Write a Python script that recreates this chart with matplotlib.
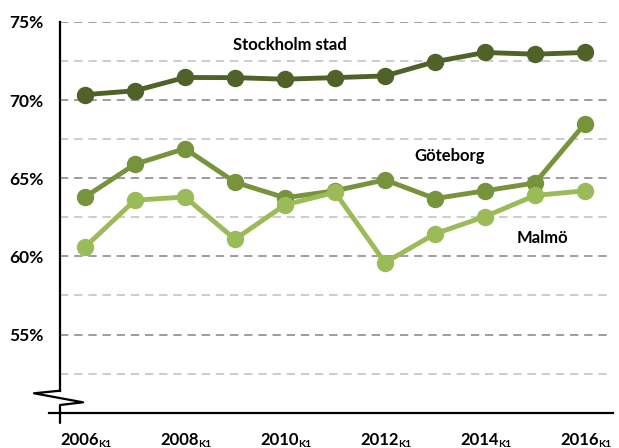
import matplotlib
matplotlib.use("Agg")
import matplotlib.pyplot as plt

years = [2006, 2007, 2008, 2009, 2010, 2011, 2012, 2013, 2014, 2015, 2016]
stockholm = [70.35, 70.6, 71.45, 71.44, 71.34, 71.44, 71.55, 72.46, 73.05, 72.94, 73.05]
goteborg = [63.8, 65.9, 66.9, 64.75, 63.75, 64.2, 64.9, 63.7, 64.2, 64.7, 68.5]
malmo = [60.6, 63.6, 63.8, 61.1, 63.3, 64.1, 59.6, 61.45, 62.55, 63.9, 64.2]
series_names = ["Stockholm stad", "Göteborg", "Malmö"]
series_colors = ["#4f6228", "#77933c", "#9bbb59"]
xtick_years = [2006, 2008, 2010, 2012, 2014, 2016]
xtick_sub = "K1"
ytick_vals = [55, 60, 65, 70, 75]

FONT = "Lato"
plt.rcParams["font.family"] = [FONT, "DejaVu Sans"]

fig = plt.figure(figsize=(6.19, 4.48), dpi=100)
ax = fig.add_axes([60/619, 1-412.7/448, 550/619, 390.7/448])
ax.set_xlim(2005.5, 2016.5)
ax.set_ylim(50, 75)

# gridlines
for i in range(1, 11):
    v = 50 + 2.5*i
    col = "#8c8c8c" if i % 2 == 0 else "#c4c4c4"
    ax.axhline(v, color=col, lw=1.2, dashes=(5, 3.5), zorder=1)

for vals, col in zip([stockholm, goteborg, malmo], series_colors):
    ax.plot(years, vals, color=col, lw=3.5, marker="o", markersize=11.5,
            zorder=3, solid_capstyle="round")

# labels
ax.text(2010.1, 73.55, series_names[0], ha="center", va="center",
        fontsize=12, fontweight="bold")
ax.text(2013.3, 66.4, series_names[1], ha="center", va="center",
        fontsize=12, fontweight="bold")
ax.text(2015.15, 61.2, series_names[2], ha="center", va="center",
        fontsize=12, fontweight="bold")

for s in ax.spines.values():
    s.set_visible(False)
ax.set_xticks([])
ax.set_yticks(ytick_vals)
ax.set_yticklabels([f"{v}%" for v in ytick_vals], fontsize=12.5, fontweight="bold")
ax.tick_params(axis="y", length=0, pad=12)

# axis lines with break
T = ax.transAxes
kw = dict(color="black", lw=1.6, transform=T, clip_on=False, zorder=5)
ax.plot([0, 0], [1, 0.0563], **kw)
ax.plot([0, -0.0473, 0.0418, 0, 0], [0.0563, 0.0497, 0.0266, 0.0197, -0.0256], **kw)
ax.plot([-0.02, 1.0055], [0, 0], **kw)

# x tick labels with subscript
for y in xtick_years:
    ax.annotate(str(y), xy=(y, 0), xycoords=("data", "axes fraction"),
                xytext=(10, -23), textcoords="offset points", ha="right", va="baseline",
                fontsize=12, fontweight="bold")
    ax.annotate(xtick_sub, xy=(y, 0), xycoords=("data", "axes fraction"),
                xytext=(9.8, -24.5), textcoords="offset points", ha="left", va="baseline",
                fontsize=7.5, fontweight="bold")

fig.savefig("out.png", dpi=100)
